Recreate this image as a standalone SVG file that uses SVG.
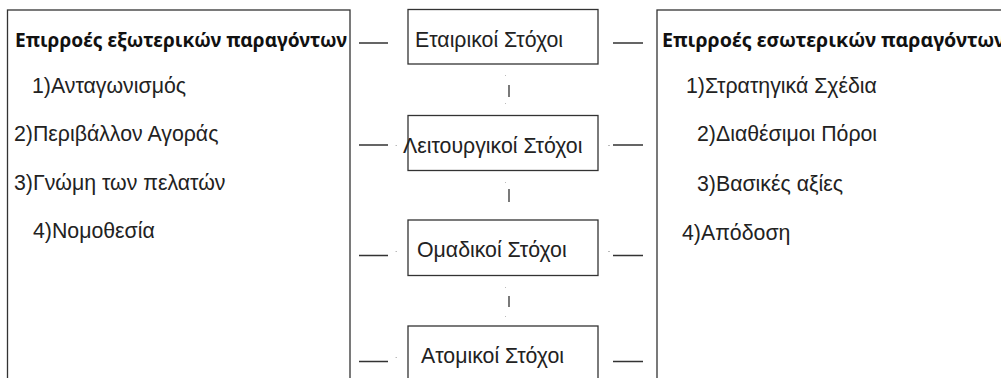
<svg xmlns="http://www.w3.org/2000/svg" width="1001" height="378" viewBox="0 0 1001 378">
  <style>
    .panel { fill: #ffffff; stroke: #333333; stroke-width: 1.3; }
    .goal { fill: #ffffff; stroke: #333333; stroke-width: 1.3; }
    .head { font-family: "Noto Sans", "Open Sans", sans-serif; font-weight: bold; font-size: 19.5px; fill: #111111; }
    .item { font-family: "Liberation Sans", Arial, sans-serif; font-size: 21.3px; fill: #222222; }
    .link { stroke: #333333; stroke-width: 1.3; fill: none; }
    .tick { stroke: #bbbbbb; stroke-width: 1; fill: none; }
  </style>
  <rect width="1001" height="378" fill="#ffffff"/>

  <!-- external factors panel -->
  <g id="external">
    <rect class="panel" x="7.5" y="10" width="342.5" height="380"/>
    <text class="head" x="15" y="47" textLength="332" lengthAdjust="spacingAndGlyphs">Επιρροές εξωτερικών παραγόντων</text>
    <text class="item" x="32" y="93">1)Ανταγωνισμός</text>
    <text class="item" x="14" y="141">2)Περιβάλλον Αγοράς</text>
    <text class="item" x="14" y="190">3)Γνώμη των πελατών</text>
    <text class="item" x="33" y="238">4)Νομοθεσία</text>
  </g>

  <!-- internal factors panel -->
  <g id="internal">
    <rect class="panel" x="657" y="10" width="360" height="380"/>
    <text class="head" x="662" y="47" textLength="343" lengthAdjust="spacingAndGlyphs">Επιρροές εσωτερικών παραγόντων</text>
    <text class="item" x="686" y="93">1)Στρατηγικά Σχέδια</text>
    <text class="item" x="697" y="141">2)Διαθέσιμοι Πόροι</text>
    <text class="item" x="697" y="191">3)Βασικές αξίες</text>
    <text class="item" x="682" y="240">4)Απόδοση</text>
  </g>

  <!-- goal levels -->
  <g id="corporate">
    <rect class="goal" x="408" y="9.5" width="190" height="54.5"/>
    <text class="item" x="415" y="47">Εταιρικοί Στόχοι</text>
  </g>
  <g id="functional">
    <rect class="goal" x="408" y="115.5" width="190" height="55"/>
    <text class="item" x="403" y="153">Λειτουργικοί Στόχοι</text>
  </g>
  <g id="team">
    <rect class="goal" x="408" y="220" width="190" height="55.5"/>
    <text class="item" x="417" y="256.5">Ομαδικοί Στόχοι</text>
  </g>
  <g id="individual">
    <rect class="goal" x="408" y="326" width="190" height="70"/>
    <text class="item" x="421" y="363">Ατομικοί Στόχοι</text>
  </g>

  <!-- connectors -->
  <g id="connectors">
    <path class="link" d="M359 43H388M613 43H643M359 145H388M613 145H643M359 255.5H388M613 255.5H643M359 361.5H388M613 361.5H643"/>
    <path class="link" d="M509 85V97M509 189V202M509 296V307"/>
    <path class="tick" d="M505.5 75V76M505.5 103V104M505.5 182V183M505.5 287V288M505.5 316V317M395.5 145.5H397M395.5 251.5H397M395.5 357.5H397M608 145.5H610M608 251.5H610"/>
  </g>
</svg>
